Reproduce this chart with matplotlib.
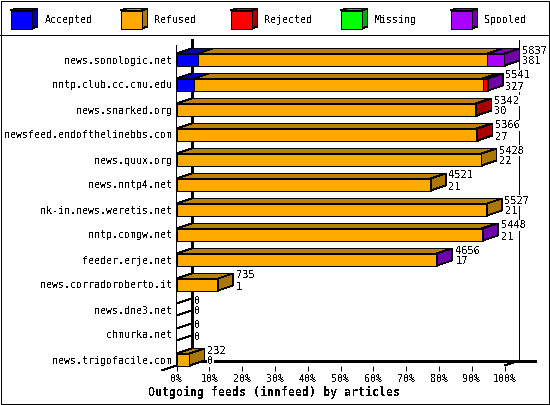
import matplotlib
matplotlib.use('Agg')
import matplotlib.pyplot as plt
from matplotlib.patches import Polygon, Rectangle

plt.rcParams['font.family'] = 'DejaVu Sans Mono'
plt.rcParams['text.antialiased'] = False

hosts = ['news.sonologic.net', 'nntp.club.cc.cmu.edu', 'news.snarked.org',
         'newsfeed.endofthelinebbs.com', 'news.quux.org', 'news.nntp4.net',
         'nk-in.news.weretis.net', 'nntp.comgw.net', 'feeder.erje.net',
         'news.corradoroberto.it', 'news.dne3.net', 'chmurka.net',
         'news.trigofacile.com']
# widths in percent
accepted = [6.5, 5.4, 0, 0, 0, 0, 0, 0, 0, 0, 0, 0, 0]
refused = [88.3, 87.9, 91.0, 91.3, 93.0, 77.5, 94.6, 93.0, 79.1, 12.7, 0, 0, 4.0]
rejected = [0, 1.4, 0.5, 0.5, 0, 0, 0, 0, 0, 0, 0, 0, 0]
missing = [0, 0, 0, 0, 0, 0, 0, 0, 0, 0, 0, 0, 0]
spooled = [5.2, 0.2, 0, 0, 0, 0, 0, 0.4, 0.4, 0, 0, 0, 0]
articles = [5837, 5541, 5342, 5366, 5428, 4521, 5527, 5448, 4656, 735, 0, 0, 232]
sizes = [381, 327, 30, 27, 22, 21, 21, 21, 17, 1, 0, 0, 0]

names = ['Accepted', 'Refused', 'Rejected', 'Missing', 'Spooled']
series = [accepted, refused, rejected, missing, spooled]
front = ['#0000ff', '#ffaa00', '#ff0000', '#00ff00', '#aa00ff']
side = ['#0000aa', '#aa7700', '#aa0000', '#00aa00', '#7000aa']
top = ['#0000bb', '#b8820a', '#bb0000', '#00bb00', '#7c00bb']

W, H = 550, 405
LW = 0.72
THIN = 0.55
X0, X100 = 176.5, 504.5
Y_TOP, Y_BOT = 36.5, 365.5
ROW0 = 59.5
PX_X = (X100 - X0) / 100
PX_ROW = 25
DX = 15 / PX_X
DY = 5 / PX_ROW
HALF = 6 / PX_ROW

fig = plt.figure(figsize=(W / 100, H / 100), dpi=100)

# frame and legend, in pixels
bg = fig.add_axes([0, 0, 1, 1])
bg.set_xlim(0, W)
bg.set_ylim(H, 0)
bg.axis('off')
bg.add_patch(Rectangle((0.5, 0.5), 548, 403.5, fill=False, ec='black', lw=LW, aa=False))
bg.add_patch(Rectangle((0, 35), 549, 1, fc='black', lw=0, aa=False))
for i, name in enumerate(names):
    x = 10.5 + 110 * i
    bg.add_patch(Polygon([(x, 10.5), (x + 6, 8.5), (x + 27, 8.5), (x + 21, 10.5)],
                         fc=top[i], ec='black', lw=THIN, aa=False))
    bg.add_patch(Polygon([(x + 21, 10.5), (x + 27, 8.5), (x + 27, 26.5), (x + 21, 28.5)],
                         fc=side[i], ec='black', lw=THIN, aa=False))
    bg.add_patch(Rectangle((x, 10.5), 21, 18, fc=front[i], ec='black', lw=LW, aa=False))
    bg.text(x + 34, 20, name, fontsize=7.2, va='center', ha='left')
bg.text(274, 392, 'Outgoing feeds (innfeed) by articles', fontsize=8.4,
        fontweight='bold', ha='center', va='center')

ax = fig.add_axes([X0 / W, 1 - Y_BOT / H, (X100 - X0) / W, (Y_BOT - Y_TOP) / H])
ax.patch.set_alpha(0)
ax.set_xlim(0, 100)
ax.set_ylim((Y_BOT - ROW0) / PX_ROW, (Y_TOP - ROW0) / PX_ROW)
y_bottom = ax.get_ylim()[0]
y_top = ax.get_ylim()[1]

for s in ['top', 'right', 'bottom', 'left']:
    ax.spines[s].set_visible(False)

ax.set_xticks(range(0, 101, 10))
ax.set_xticklabels([str(v) + '%' for v in range(0, 101, 10)], fontsize=7.2)
ax.tick_params(axis='x', length=3.6, width=LW, pad=2.5)
ax.set_yticks(range(len(hosts)))
ax.set_yticklabels(hosts, fontsize=7.2)
ax.tick_params(axis='y', length=0, pad=3)


# thin filled strips stay one pixel wide with antialiasing off
def vwall(x, y_a, y_b):
    ax.add_patch(Rectangle((x - 0.4 / PX_X, y_a), 0.8 / PX_X, y_b - y_a, fc='black', lw=0,
                           aa=False, zorder=2, clip_on=False, snap=False))


# walls of the 3d frame
back = y_bottom - DY
slant = dict(color='black', lw=THIN, aa=False, zorder=2, clip_on=False, snap=False)
wall = dict(color='black', lw=0.8, aa=False, zorder=2, clip_on=False, snap=True)
vwall(0, y_bottom, y_top + DY + 0.14)
vwall(100 + DX, back, y_top + 0.14)
ax.plot([DX, DX], [back, y_top + 0.14], **wall)
ax.plot([DX, 109.3], [back, back], **wall)
ax.plot([-DX, DX], [y_bottom + DY, back], **slant)
ax.plot([100, 100 + DX], [y_bottom, back], **slant)

for row in range(len(hosts)):
    y1, y2 = row - HALF, row + HALF
    left = 0
    last = None
    for k in range(len(series)):
        w = series[k][row]
        if w == 0:
            continue
        right = left + w
        ax.add_patch(Polygon([(left, y1), (left + DX, y1 - DY), (right + DX, y1 - DY), (right, y1)],
                             fc=top[k], ec='black', lw=THIN, aa=False, zorder=3 + row, clip_on=False))
        ax.add_patch(Rectangle((left, y1), w, y2 - y1, fc=front[k], ec='black', lw=LW,
                               aa=False, zorder=3 + row, clip_on=False))
        left = right
        last = k
    if last is None:
        # empty row, only the two edges of the face
        ax.plot([0, DX], [y1, y1 - DY], **slant)
        ax.plot([0, DX], [y2, y2 - DY], **slant)
    else:
        ax.add_patch(Polygon([(left, y1), (left + DX, y1 - DY), (left + DX, y2 - DY), (left, y2)],
                             fc=side[last], ec='black', lw=THIN, aa=False, zorder=3 + row, clip_on=False))
    x_txt = left + DX + 3 / PX_X
    ax.text(x_txt, row - 9 / PX_ROW, str(articles[row]), fontsize=7.5, va='center', ha='left',
            zorder=30, bbox=dict(fc='white', ec='none', pad=0.4), clip_on=False)
    ax.text(x_txt, row + 2 / PX_ROW, str(sizes[row]), fontsize=7.5, va='center', ha='left',
            zorder=30, bbox=dict(fc='white', ec='none', pad=0.4), clip_on=False)

fig.savefig('out.png', dpi=100)
